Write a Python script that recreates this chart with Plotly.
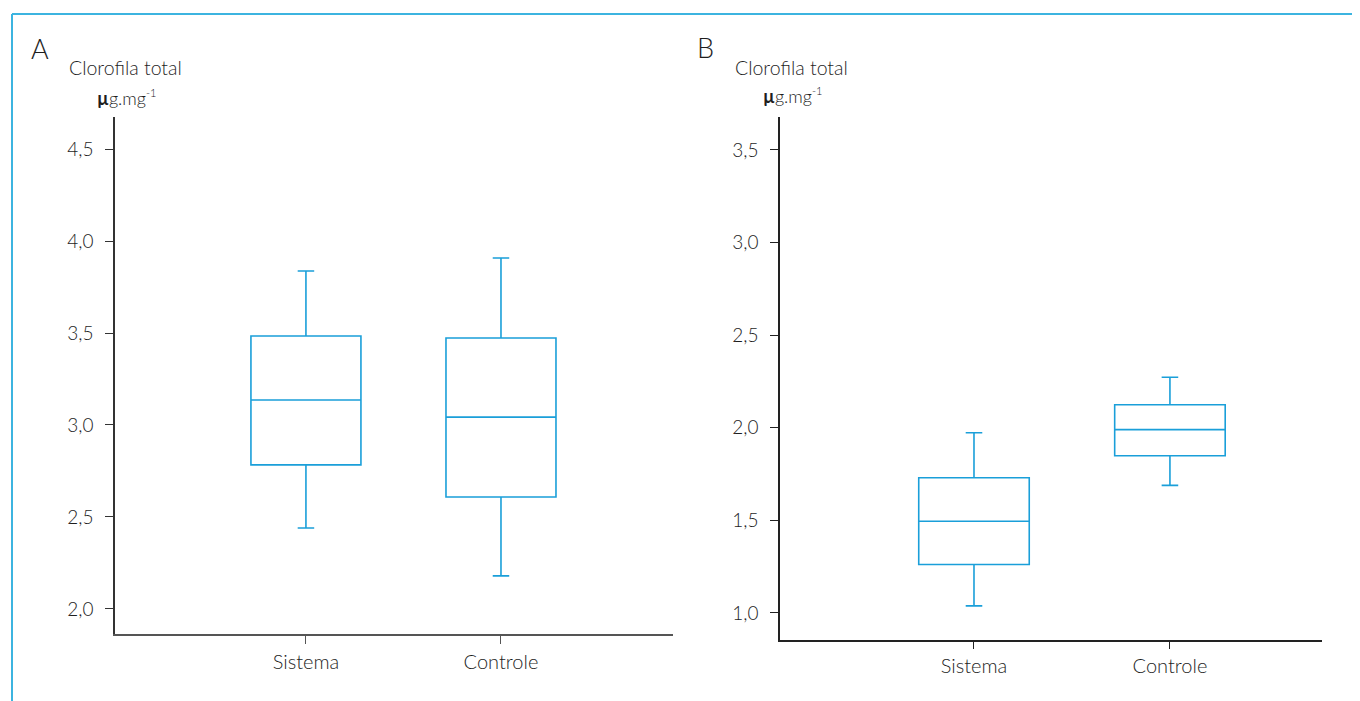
import plotly.graph_objects as go

W, H = 1360, 701

categories = ["Sistema", "Controle"]

# Panel A
a_lower = [2.44, 2.18]
a_q1 = [2.783, 2.609]
a_median = [3.136, 3.043]
a_q3 = [3.484, 3.473]
a_upper = [3.837, 3.908]

# Panel B
b_lower = [1.038, 1.689]
b_q1 = [1.262, 1.849]
b_median = [1.495, 1.99]
b_q3 = [1.73, 2.124]
b_upper = [1.973, 2.273]

a_ticks = [2.0, 2.5, 3.0, 3.5, 4.0, 4.5]
a_ticktext = ["2,0", "2,5", "3,0", "3,5", "4,0", "4,5"]
b_ticks = [1.0, 1.5, 2.0, 2.5, 3.0, 3.5]
b_ticktext = ["1,0", "1,5", "2,0", "2,5", "3,0", "3,5"]

BOX = "#1a9fd9"
FONT = "Lato"
TXT = "#1e1e1e"
OFF = 8  # page offset

fig = go.Figure()

fig.add_trace(go.Box(
    x=categories, q1=a_q1, median=a_median, q3=a_q3,
    lowerfence=a_lower, upperfence=a_upper,
    xaxis="x", yaxis="y", width=0.564, whiskerwidth=0.15,
    line=dict(color=BOX, width=1.6), fillcolor="rgba(0,0,0,0)",
    showlegend=False, boxpoints=False, hoverinfo="skip"))

fig.add_trace(go.Box(
    x=categories, q1=b_q1, median=b_median, q3=b_q3,
    lowerfence=b_lower, upperfence=b_upper,
    xaxis="x2", yaxis="y2", width=0.564, whiskerwidth=0.15,
    line=dict(color=BOX, width=1.6), fillcolor="rgba(0,0,0,0)",
    showlegend=False, boxpoints=False, hoverinfo="skip"))

def px(x):
    return (x - OFF) / W

def py(y):
    return 1 - (y - OFF) / H

def xaxis_common(standoff, ticklen):
    return dict(showgrid=False, zeroline=False, showline=True,
                ticks="outside", ticklen=ticklen, tickwidth=1.2, ticklabelstandoff=standoff,
                tickfont=dict(family=FONT, size=20, color=TXT, weight=300),
                fixedrange=True)

def yaxis_common():
    return dict(showgrid=False, zeroline=False, showline=True,
                ticks="outside", ticklen=8, tickwidth=1.2, ticklabelstandoff=8,
                tickfont=dict(family=FONT, size=19, color=TXT, weight=300),
                fixedrange=True)

fig.update_layout(
    width=W, height=H,
    margin=dict(l=0, r=0, t=0, b=0),
    paper_bgcolor="white", plot_bgcolor="white",
    xaxis=dict(domain=[px(115), px(673)], range=[-0.979, 1.882], anchor="y",
               linecolor="#555555", linewidth=2, tickcolor="#555555",
               type="category", **xaxis_common(1, 8)),
    yaxis=dict(domain=[py(634), py(117)], range=[1.864, 4.674], anchor="x",
               tickvals=a_ticks, ticktext=a_ticktext,
               linecolor="#333333", linewidth=1.5, tickcolor="#333333", **yaxis_common()),
    xaxis2=dict(domain=[px(780), px(1322)], range=[-0.990, 1.776], anchor="y2",
                linecolor="#222222", linewidth=1.5, tickcolor="#222222",
                type="category", **xaxis_common(0, 7)),
    yaxis2=dict(domain=[py(640), py(117)], range=[0.854, 3.678], anchor="x2",
                tickvals=b_ticks, ticktext=b_ticktext,
                linecolor="#222222", linewidth=1.5, tickcolor="#222222", **yaxis_common()),
    font=dict(family=FONT, color=TXT),
)

annots = [
    ("A", 29, 48, 27),
    ("Clorofila total", 67, 68, 19.5),
    ("<b>µ</b>g.mg<sup><span style='font-size:11px'>-1</span></sup>", 95, 97, 18),
    ("B", 695, 47, 27),
    ("Clorofila total", 733, 67, 19.5),
    ("<b>µ</b>g.mg<sup><span style='font-size:11px'>-1</span></sup>", 761, 96, 18),
]
for text, x, y, size in annots:
    fig.add_annotation(text=text, x=px(x), y=py(y), xref="paper", yref="paper",
                       xanchor="left", yanchor="middle", showarrow=False,
                       font=dict(family=FONT, size=size, color=TXT, weight=300))

# frame
fig.add_shape(type="line", xref="paper", yref="paper",
              x0=px(12), y0=py(14), x1=1.0, y1=py(14),
              line=dict(color="#3cb4e0", width=2))
fig.add_shape(type="line", xref="paper", yref="paper",
              x0=px(12), y0=py(14), x1=px(12), y1=0,
              line=dict(color="#3cb4e0", width=2))

fig.write_html("out.html")
